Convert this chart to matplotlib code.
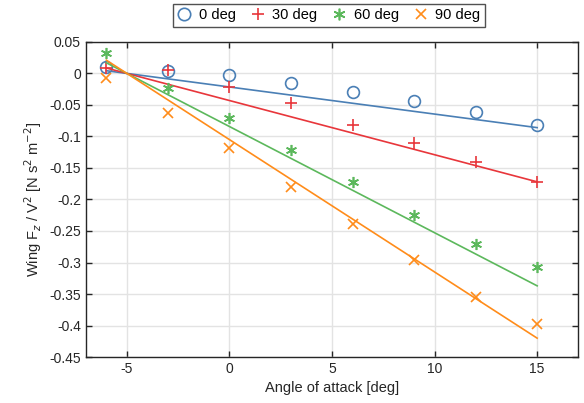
import matplotlib
matplotlib.use('Agg')
import matplotlib.pyplot as plt
import numpy as np

plt.rcParams['font.family'] = ['Liberation Sans', 'DejaVu Sans']
plt.rcParams['axes.unicode_minus'] = False

# angle of attack [deg]
aoa = [-6, -3, 0, 3, 6, 9, 12, 15]

# measured Fz / V^2 for each sweep
fz_0 = [0.010, 0.004, -0.002, -0.0146, -0.030, -0.044, -0.061, -0.082]
fz_30 = [0.008, 0.006, -0.021, -0.047, -0.082, -0.111, -0.140, -0.172]
fz_60 = [0.032, -0.0225, -0.070, -0.121, -0.173, -0.224, -0.270, -0.307]
fz_90 = [-0.008, -0.062, -0.119, -0.180, -0.239, -0.296, -0.354, -0.397]

# fitted lines: slope and zero-lift angle
slopes = [-0.0043, -0.0086, -0.01685, -0.0210]
alpha0 = -5.0

labels = ['0 deg', '30 deg', '60 deg', '90 deg']
colors = ['#4a7fb5', '#e8363b', '#5cb85c', '#ff8c1a']
markers = ['o', '+', (6, 2, 0), 'x']
msizes = [8.5, 8, 8, 6.5]

fig = plt.figure(figsize=(5.84, 4.03), dpi=100)
ax = fig.add_axes([0.147, 0.114, 0.843, 0.782])

handles = []
for y, k, lab, c, m, ms in zip([fz_0, fz_30, fz_60, fz_90], slopes, labels, colors, markers, msizes):
    if m == 'o':
        h, = ax.plot(aoa, y, linestyle='none', marker='o', markersize=ms,
                     markerfacecolor='none', markeredgecolor=c, markeredgewidth=1.2, label=lab)
    else:
        h, = ax.plot(aoa, y, linestyle='none', marker=m, markersize=ms,
                     color=c, markeredgewidth=1.2, label=lab)
    handles.append(h)
    xf = np.array([aoa[0], aoa[-1]])
    ax.plot(xf, k * (xf - alpha0), color=c, linewidth=1.2)

ax.set_xlim(-7, 17)
ax.set_ylim(-0.45, 0.05)
ax.set_xticks([-5, 0, 5, 10, 15])
ax.set_yticks(np.arange(-0.45, 0.051, 0.05))
ax.set_yticklabels(['-0.45', '-0.4', '-0.35', '-0.3', '-0.25', '-0.2', '-0.15',
                    '-0.1', '-0.05', '0', '0.05'])
ax.grid(True, color='#e3e3e3', linewidth=1)
ax.set_axisbelow(True)
ax.tick_params(direction='in', top=True, right=True, labelsize=10, colors='#262626',
               length=4, width=1)
for s in ax.spines.values():
    s.set_color('#262626')
    s.set_linewidth(1)

ax.set_xlabel('Angle of attack [deg]', fontsize=10.5, color='#262626')
ax.set_ylabel(r'Wing F$_z$ / V$^2$ [N s$^2$ m$^{-2}$]', fontsize=10.5, color='#262626')

leg = fig.legend(handles=handles, loc='center', bbox_to_anchor=(0.563, 0.962), ncol=4,
                 frameon=True, fancybox=False, fontsize=10.5, handlelength=1.0,
                 handletextpad=0.5, columnspacing=1.0, borderpad=0.3, markerscale=1.05)
leg.get_frame().set_edgecolor('#262626')
leg.get_frame().set_linewidth(1)

fig.savefig('out.png', dpi=100)
